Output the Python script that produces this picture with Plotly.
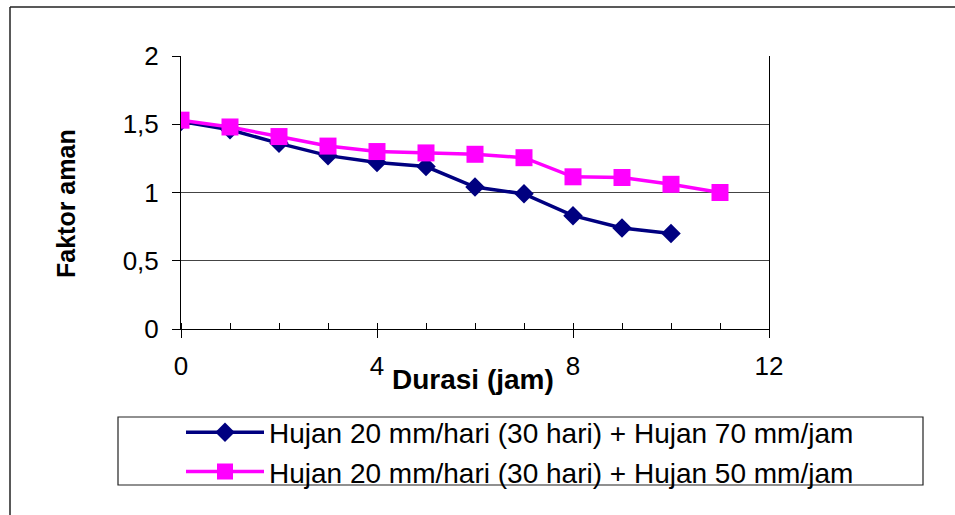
import plotly.graph_objects as go

# Data
durasi_70 = [0, 1, 2, 3, 4, 5, 6, 7, 8, 9, 10]
faktor_70 = [1.52, 1.46, 1.36, 1.27, 1.22, 1.19, 1.04, 0.99, 0.83, 0.74, 0.70]
durasi_50 = [0, 1, 2, 3, 4, 5, 6, 7, 8, 9, 10, 11]
faktor_50 = [1.53, 1.48, 1.41, 1.34, 1.30, 1.29, 1.28, 1.255, 1.115, 1.11, 1.06, 1.00]

name_70 = "Hujan 20 mm/hari (30 hari) + Hujan 70 mm/jam"
name_50 = "Hujan 20 mm/hari (30 hari) + Hujan 50 mm/jam"
x_ticks = [0, 4, 8, 12]
y_ticks = [0, 0.5, 1, 1.5, 2]

FONT = "Liberation Sans, Arial, Helvetica, sans-serif"

# plot-area geometry in pixels
W, H = 955, 515
L, R, T, B = 181, 769, 56, 329
PW, PH = R - L, B - T


def px(x):
    return (x - L) / PW


def py(y):
    return (B - y) / PH


fig = go.Figure()
fig.add_trace(go.Scatter(
    x=durasi_70, y=faktor_70, name=name_70, mode="lines+markers",
    line=dict(color="#000080", width=3.5),
    marker=dict(symbol="diamond", size=15, color="#000080"),
))
fig.add_trace(go.Scatter(
    x=durasi_50, y=faktor_50, name=name_50, mode="lines+markers",
    line=dict(color="#FF00FF", width=3.5),
    marker=dict(symbol="square", size=17, color="#FF00FF"),
))

fig.update_layout(
    width=W, height=H,
    margin=dict(l=L, r=W - R, t=T, b=H - B, pad=0),
    paper_bgcolor="white", plot_bgcolor="white",
    separators=",.",
    font=dict(family=FONT, size=26, color="black"),
    showlegend=True,
    legend=dict(
        x=px(520), y=py(452), xanchor="center", yanchor="middle",
        borderwidth=0, bgcolor="rgba(0,0,0,0)",
        font=dict(family=FONT, size=28, color="black"),
        itemwidth=78, tracegroupgap=0,
    ),
    xaxis=dict(
        range=[0, 12], tickvals=x_ticks, ticktext=[str(v) for v in x_ticks],
        showgrid=False, zeroline=False,
        showline=True, linecolor="black", linewidth=1,
        ticks="outside", ticklen=8, tickcolor="black", tickwidth=1,
        ticklabelstandoff=6,
        minor=dict(ticks="inside", ticklen=6, dtick=1, tick0=0,
                   tickcolor="black", showgrid=False),
        tickfont=dict(size=26),
    ),
    yaxis=dict(
        range=[0, 2], tickvals=y_ticks,
        showgrid=True, gridcolor="#444444", gridwidth=1, zeroline=False,
        showline=True, linecolor="black", linewidth=1, mirror=True,
        ticks="outside", ticklen=8, tickcolor="black", tickwidth=1,
        ticklabelstandoff=8,
        tickfont=dict(size=26),
    ),
    annotations=[
        dict(text="<b>Durasi (jam)</b>", xref="paper", yref="paper",
             x=px(473), y=py(379), xanchor="center", yanchor="middle",
             showarrow=False, font=dict(family=FONT, size=28, color="black")),
        dict(text="<b>Faktor aman</b>", xref="paper", yref="paper",
             x=px(66), y=py(204), xanchor="center", yanchor="middle",
             textangle=-90, showarrow=False,
             font=dict(family=FONT, size=25, color="black")),
    ],
    shapes=[
        # outer chart frame (left and top edges visible)
        dict(type="line", xref="paper", yref="paper",
             x0=px(10), y0=py(515), x1=px(10), y1=py(7),
             line=dict(color="#222222", width=1.5)),
        dict(type="line", xref="paper", yref="paper",
             x0=px(10), y0=py(7), x1=px(955), y1=py(7),
             line=dict(color="#222222", width=1.5)),
        # legend frame
        dict(type="rect", xref="paper", yref="paper",
             x0=px(118), y0=py(485), x1=px(923), y1=py(417),
             line=dict(color="#222222", width=1.2), fillcolor="rgba(0,0,0,0)"),
    ],
)

fig.write_html("out.html")
